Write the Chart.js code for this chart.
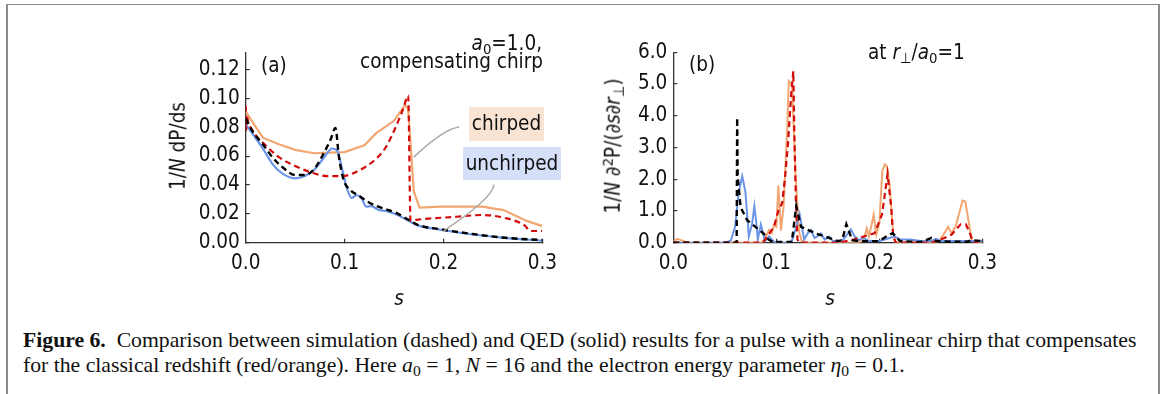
<!DOCTYPE html>
<html>
<head>
<meta charset="utf-8">
<script src="https://cdn.jsdelivr.net/npm/chart.js@4.4.0/dist/chart.umd.min.js"></script>
<style>
  html, body { margin: 0; padding: 0; background: #fff; }
  body { width: 1163px; height: 394px; position: relative; overflow: hidden; font-family: "DejaVu Sans Condensed", "DejaVu Sans", sans-serif; color: #111; }
  #frame { position: absolute; left: 6px; top: 4px; width: 1150px; height: 420px;
           border-top: 1px solid #8a8a8a; border-left: 2px solid #8a8a8a; border-right: 2px solid #8a8a8a; }
  .box { position: absolute; }
  .t { position: absolute; white-space: nowrap; font-size: 20.5px; line-height: 1; }
  .r { text-align: right; }
  .rot { transform: translate(-50%, -50%) rotate(-90deg); }
  .ctr { transform: translate(-50%, -50%); }
  sub, sup { font-size: 0.72em; line-height: 0; }
  sub { vertical-align: -0.28em; }
  sup { vertical-align: 0.5em; }
  .tag { position: absolute; font-size: 20.5px; line-height: 1; text-align: center; white-space: nowrap; }
  .cap { position: absolute; left: 23px; white-space: nowrap; font-family: "Liberation Serif", serif; font-size: 19.5px; line-height: 25px; color: #111; }
</style>
</head>
<body>
<div id="frame"></div>

<div class="box" style="left:150px; top:30px; width:420px; height:290px;"><canvas id="chartA" width="420" height="290"></canvas></div>
<div class="box" style="left:580px; top:30px; width:430px; height:290px;"><canvas id="chartB" width="430" height="290"></canvas></div>

<!-- panel (a) texts -->
<div class="t" style="left:261px; top:55px;">(a)</div>
<div class="t r" style="right:621px; top:33px;"><i>a</i><sub>0</sub>=1.0,</div>
<div class="t r" style="right:620px; top:51px;">compensating chirp</div>
<div class="tag" style="left:469px; top:107px; width:75px; height:34px; line-height:33px; background:#f9e3d3;">chirped</div>
<div class="tag" style="left:463px; top:147px; width:98px; height:33px; line-height:32px; background:#d6dff8;">unchirped</div>
<div class="t rot" style="left:178px; top:146px;">1/<i>N</i> dP/ds</div>
<div class="t ctr" style="left:399px; top:298px;"><i>s</i></div>

<!-- panel (b) texts -->
<div class="t" style="left:689px; top:54px;">(b)</div>
<div class="t" style="left:868px; top:42px;">at <i>r</i><sub>⊥</sub>/<i>a</i><sub>0</sub>=1</div>
<div class="t rot" style="left:613px; top:146px;">1/<i>N</i> ∂<sup>2</sup>P/(∂<i>s</i>∂<i>r</i><sub>⊥</sub>)</div>
<div class="t ctr" style="left:830px; top:298px;"><i>s</i></div>

<!-- caption -->
<div class="cap" id="cap1" style="top:328px;"><b>Figure 6.</b>&nbsp;&nbsp;Comparison between simulation (dashed) and QED (solid) results for a pulse with a nonlinear chirp that compensates</div>
<div class="cap" id="cap2" style="top:353px;">for the classical redshift (red/orange). Here <i>a</i><sub>0</sub> = 1, <i>N</i> = 16 and the electron energy parameter <i>η</i><sub>0</sub> = 0.1.</div>

<script>
// tick values
const xTicks = [0, 0.1, 0.2, 0.3];
const yTicksA = [0, 0.02, 0.04, 0.06, 0.08, 0.10, 0.12];
const yTicksB = [0, 1, 2, 3, 4, 5, 6];

// panel (a): 1/N dP/ds
const aChirpedQedS = [0, 0.0075, 0.0173, 0.0336, 0.050, 0.0696, 0.085, 0.100, 0.120, 0.1317, 0.150, 0.161, 0.1643, 0.170, 0.1758, 0.197, 0.2395, 0.2608, 0.2836, 0.300];
const aChirpedQedY = [0.0908, 0.083, 0.0728, 0.0682, 0.0644, 0.0620, 0.0625, 0.0628, 0.0675, 0.0758, 0.0845, 0.0953, 0.0930, 0.0356, 0.0243, 0.0250, 0.0250, 0.0226, 0.0153, 0.0115];

const aChirpedSimS = [0, 0.0005, 0.001, 0.0025, 0.0075, 0.0173, 0.0336, 0.050, 0.0663, 0.0827, 0.0974, 0.1153, 0.1317, 0.1415, 0.1513, 0.1594, 0.1643, 0.1667, 0.174, 0.2133, 0.2395, 0.2624, 0.282, 0.288, 0.300];
const aChirpedSimY = [0.095, 0.078, 0.088, 0.084, 0.077, 0.0694, 0.0593, 0.0532, 0.0487, 0.0462, 0.0462, 0.0503, 0.0581, 0.066, 0.0795, 0.093, 0.102, 0.0153, 0.016, 0.018, 0.0192, 0.0171, 0.012, 0.0081, 0.0081];

const aUnchirpedQedS = [0, 0.0075, 0.0173, 0.027, 0.0369, 0.050, 0.0598, 0.0696, 0.0794, 0.0876, 0.0925, 0.0974, 0.1023, 0.1072, 0.112, 0.117, 0.1219, 0.1268, 0.135, 0.1415, 0.1513, 0.1643, 0.174, 0.197, 0.2297, 0.2624, 0.300];
const aUnchirpedQedY = [0.0818, 0.075, 0.0653, 0.0547, 0.048, 0.0446, 0.0462, 0.0507, 0.0593, 0.0653, 0.0638, 0.0514, 0.0378, 0.031, 0.0329, 0.031, 0.025, 0.0253, 0.0226, 0.0221, 0.0199, 0.0153, 0.012, 0.009, 0.0057, 0.0034, 0.0014];

const aUnchirpedSimS = [0, 0.0075, 0.0173, 0.027, 0.0369, 0.050, 0.0598, 0.0696, 0.0794, 0.0859, 0.0908, 0.0941, 0.099, 0.1055, 0.1153, 0.1251, 0.1415, 0.1513, 0.1643, 0.174, 0.197, 0.2297, 0.2624, 0.300];
const aUnchirpedSimY = [0.086, 0.0766, 0.0682, 0.0593, 0.0525, 0.0469, 0.0469, 0.0514, 0.0626, 0.0716, 0.0795, 0.0604, 0.0435, 0.0367, 0.0322, 0.0277, 0.0232, 0.021, 0.016, 0.0124, 0.0093, 0.006, 0.0034, 0.0018];

// panel (b): 1/N d2P/(ds dr) at r/a0 = 1
const bChirpedQedS = [0, 0.004, 0.010, 0.015, 0.085, 0.088, 0.093, 0.0956, 0.0977, 0.100, 0.102, 0.1045, 0.107, 0.1105, 0.1121, 0.1153, 0.1185, 0.122, 0.1245, 0.130, 0.180, 0.185, 0.1878, 0.190, 0.1945, 0.197, 0.200, 0.2029, 0.2053, 0.2074, 0.210, 0.2134, 0.216, 0.250, 0.258, 0.2632, 0.2668, 0.270, 0.274, 0.2808, 0.2835, 0.287, 0.290, 0.300];
const bChirpedQedY = [0.05, 0.12, 0.05, 0, 0, 0.08, 0.4, 0.3, 0.55, 0.5, 1.8, 0.38, 1.12, 3.5, 5.09, 4.96, 2.26, 0.37, 0.05, 0, 0, 0.1, 0.45, 0.2, 0.88, 0.25, 0.6, 2.26, 2.47, 2.4, 1.8, 0.3, 0, 0, 0.05, 0.3, 0.5, 0.3, 0.5, 1.33, 1.3, 0.6, 0.05, 0];

const bChirpedSimS = [0, 0.085, 0.088, 0.0977, 0.1019, 0.1057, 0.1083, 0.1115, 0.1146, 0.1165, 0.1175, 0.119, 0.1205, 0.123, 0.160, 0.175, 0.1955, 0.2027, 0.208, 0.2116, 0.2134, 0.216, 0.245, 0.2525, 0.2632, 0.270, 0.279, 0.284, 0.288, 0.291, 0.300];
const bChirpedSimY = [0, 0, 0.05, 0.5, 1.0, 1.25, 2.0, 3.2, 4.75, 5.4, 3.5, 1.33, 0.1, 0, 0, 0.1, 0.3, 0.9, 2.16, 1.1, 0.2, 0, 0, 0.02, 0.15, 0.25, 0.58, 0.58, 0.3, 0, 0];

const bUnchirpedQedS = [0, 0.050, 0.0558, 0.060, 0.0635, 0.0669, 0.070, 0.0733, 0.0765, 0.0787, 0.081, 0.082, 0.085, 0.089, 0.093, 0.097, 0.100, 0.105, 0.110, 0.115, 0.1185, 0.1226, 0.127, 0.1305, 0.1337, 0.137, 0.140, 0.1433, 0.147, 0.1513, 0.155, 0.160, 0.165, 0.1724, 0.176, 0.180, 0.1847, 0.190, 0.200, 0.210, 0.215, 0.220, 0.230, 0.240, 0.250, 0.255, 0.260, 0.270, 0.280, 0.290, 0.300];
const bUnchirpedQedY = [0, 0, 0.06, 0.5, 1.6, 2.1, 1.6, 0.2, 0.6, 1.15, 0.5, 0.1, 0.57, 0.05, 0.2, 0.05, 0, 0, 0, 0.05, 0.4, 0.91, 0.1, 0.3, 0.4, 0.15, 0.2, 0.29, 0.1, 0.19, 0.05, 0.05, 0.1, 0.42, 0.2, 0.08, 0.15, 0.05, 0.05, 0.15, 0.2, 0.1, 0.1, 0.05, 0.05, 0.12, 0.05, 0.05, 0.05, 0.05, 0.05];

const bUnchirpedSimS = [0, 0.0615, 0.062, 0.0625, 0.0653, 0.0717, 0.0797, 0.0876, 0.0925, 0.097, 0.115, 0.1194, 0.124, 0.1386, 0.153, 0.160, 0.164, 0.168, 0.1737, 0.180, 0.200, 0.2086, 0.213, 0.220, 0.240, 0.2507, 0.255, 0.270, 0.285, 0.290, 0.300];
const bUnchirpedSimY = [0, 0, 3.94, 2.1, 1.12, 0.71, 0.5, 0.29, 0.1, 0.02, 0.02, 1.15, 0.5, 0.29, 0.13, 0.05, 0.08, 0.58, 0.08, 0.05, 0.05, 0.24, 0.3, 0.05, 0.02, 0.15, 0.05, 0.03, 0.03, 0.08, 0.05];

// leader lines from the "chirped"/"unchirped" tags to the curves, in data units (s, value)
const leaderChirped = [[0.216, 0.0802], [0.2003, 0.0789], [0.1699, 0.0593]];
const leaderUnchirped = [[0.251, 0.0403], [0.2503, 0.0309], [0.200, 0.0081]];

const ORANGE = '#f2a671';
const RED = '#d20a0a';
const BLUE = '#6a95e6';
const BLACK = '#000000';
const AXIS = '#333333';
const tickFont = { family: '"DejaVu Sans Condensed", "DejaVu Sans"', size: 20.5 };

function pts(s, y) {
  return s.map((v, i) => ({ x: v, y: y[i] }));
}

function line(label, data, color, dashed, width, smooth) {
  return {
    label: label,
    data: data,
    borderColor: color,
    borderWidth: width,
    borderDash: dashed ? [6, 4] : [],
    pointRadius: 0,
    fill: false,
    tension: 0,
    cubicInterpolationMode: smooth ? 'monotone' : 'default'
  };
}

function makeScales(yTicks, yMax, yDigits, yWidth, xHeight) {
  return {
    x: {
      type: 'linear', min: 0, max: 0.3,
      afterBuildTicks: (s) => { s.ticks = xTicks.map(v => ({ value: v })); },
      afterFit: (s) => { s.height = xHeight; },
      ticks: { callback: (v) => v.toFixed(1), font: tickFont, color: '#111', padding: 13, maxRotation: 0, autoSkip: false },
      grid: { drawOnChartArea: false, tickLength: -4, color: AXIS, lineWidth: 1.2 },
      border: { color: AXIS, width: 1.3 }
    },
    y: {
      type: 'linear', min: 0, max: yMax,
      afterBuildTicks: (s) => { s.ticks = yTicks.map(v => ({ value: v })); },
      afterFit: (s) => { s.width = yWidth; },
      ticks: { callback: (v) => v.toFixed(yDigits), font: tickFont, color: '#111', padding: 10, autoSkip: false },
      grid: { drawOnChartArea: false, tickLength: -4, color: AXIS, lineWidth: 1.2 },
      border: { color: AXIS, width: 1.3 }
    }
  };
}

const leaderPlugin = {
  id: 'leaders',
  afterDatasetsDraw(chart) {
    const { ctx, scales: { x, y } } = chart;
    ctx.save();
    ctx.strokeStyle = '#aaaaaa';
    ctx.lineWidth = 1.5;
    [leaderChirped, leaderUnchirped].forEach((p) => {
      ctx.beginPath();
      ctx.moveTo(x.getPixelForValue(p[0][0]), y.getPixelForValue(p[0][1]));
      ctx.quadraticCurveTo(x.getPixelForValue(p[1][0]), y.getPixelForValue(p[1][1]),
                           x.getPixelForValue(p[2][0]), y.getPixelForValue(p[2][1]));
      ctx.stroke();
    });
    ctx.restore();
  }
};

const common = {
  responsive: false,
  animation: false,
  devicePixelRatio: 1,
  plugins: { legend: { display: false }, tooltip: { enabled: false } }
};

// panel (a)
new Chart(document.getElementById('chartA'), {
  type: 'line',
  data: {
    datasets: [
      line('unchirped, simulation', pts(aUnchirpedSimS, aUnchirpedSimY), BLACK, true, 2.4, true),
      line('chirped, simulation', pts(aChirpedSimS, aChirpedSimY), RED, true, 2.2, true),
      line('unchirped, QED', pts(aUnchirpedQedS, aUnchirpedQedY), BLUE, false, 2.2, true),
      line('chirped, QED', pts(aChirpedQedS, aChirpedQedY), ORANGE, false, 2.2, false)
    ]
  },
  options: Object.assign({}, common, {
    layout: { padding: { left: 0, right: 18, top: 20, bottom: 0 } },
    scales: makeScales(yTicksA, 0.132, 2, 95.7, 77.3)
  }),
  plugins: [leaderPlugin]
});

// panel (b)
new Chart(document.getElementById('chartB'), {
  type: 'line',
  data: {
    datasets: [
      line('unchirped, simulation', pts(bUnchirpedSimS, bUnchirpedSimY), BLACK, true, 2.4, false),
      line('chirped, simulation', pts(bChirpedSimS, bChirpedSimY), RED, true, 2.2, false),
      line('unchirped, QED', pts(bUnchirpedQedS, bUnchirpedQedY), BLUE, false, 2, false),
      line('chirped, QED', pts(bChirpedQedS, bChirpedQedY), ORANGE, false, 2, false)
    ]
  },
  options: Object.assign({}, common, {
    layout: { padding: { left: 0, right: 22.7, top: 20, bottom: 0 } },
    scales: makeScales(yTicksB, 6, 1, 93.3, 77.3)
  })
});

// stretch the caption's first line to the width it has in the figure
const cap1 = document.getElementById('cap1');
const cap2 = document.getElementById('cap2');
const w = cap1.getBoundingClientRect().width;
const size = 19.5 * 1114 / w;
cap1.style.fontSize = size + 'px';
cap2.style.fontSize = size + 'px';
</script>
</body>
</html>
